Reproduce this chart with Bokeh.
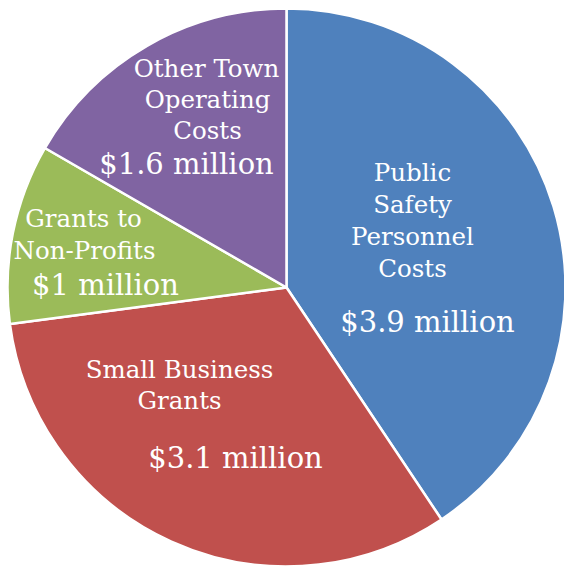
import math
from bokeh.plotting import figure
from bokeh.models import Range1d, ColumnDataSource
from bokeh.core.properties import value
from bokeh.embed import file_html
from bokeh.resources import INLINE

categories = ["Public Safety Personnel Costs", "Small Business Grants",
              "Grants to Non-Profits", "Other Town Operating Costs"]
amounts = [3.9, 3.1, 1.0, 1.6]
colors = ["#4F81BD", "#C0504D", "#9BBB59", "#8064A2"]

# label lines (text, x, y) relative to pie centre, in pixels
label_lines = ["Public", "Safety", "Personnel", "Costs",
               "Small Business", "Grants",
               "Grants to", "Non-Profits",
               "Other Town", "Operating", "Costs"]
label_x = [126, 126, 126, 126, -107, -107, -203, -202, -80, -79, -79]
label_y = [115, 83, 51, 19, -82, -113, 69, 37, 219, 188, 157]
value_texts = ["$3.9 million", "$3.1 million", "$1 million", "$1.6 million"]
value_x = [141, -51, -181, -100]
value_y = [-34, -170, 3, 124]

W, H = 564, 567
cx_px, cy_px = 286, 287
R = 279

p = figure(width=W, height=H, output_backend="svg", toolbar_location=None,
           x_range=Range1d(-cx_px, W - cx_px), y_range=Range1d(cy_px - H, cy_px),
           min_border=0)
p.axis.visible = False
p.grid.visible = False
p.outline_line_color = None
p.background_fill_color = "white"
p.border_fill_color = "white"

total = sum(amounts)
starts, ends = [], []
cum = 0.0
for a in amounts:
    starts.append(math.pi / 2 - cum / total * 2 * math.pi)
    cum += a
    ends.append(math.pi / 2 - cum / total * 2 * math.pi)

src = ColumnDataSource(dict(start=starts, end=ends, color=colors))
p.wedge(x=0, y=0, radius=R, radius_units="data", start_angle="start", end_angle="end",
        direction="clock", fill_color="color", line_color="white", line_width=2.5,
        source=src)

p.text(x=label_x, y=label_y, text=label_lines, text_color="white",
       text_font=value("DejaVu Serif"), text_font_size="24.5px",
       text_align="center", text_baseline="middle")
p.text(x=value_x, y=value_y, text=value_texts, text_color="white",
       text_font=value("DejaVu Serif"), text_font_size="29px",
       text_align="center", text_baseline="middle")

open("out.html", "w").write(file_html(p, INLINE))
